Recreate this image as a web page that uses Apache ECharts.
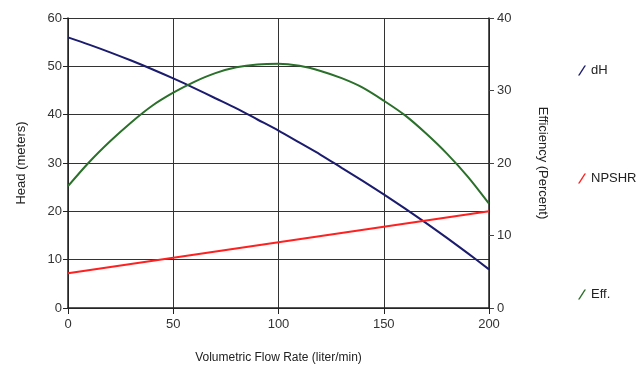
<!DOCTYPE html>
<html><head><meta charset="utf-8">
<script src="https://cdn.jsdelivr.net/npm/echarts@6/dist/echarts.min.js"></script>
<style>html,body{margin:0;padding:0;background:#fff}#c{width:643px;height:369px}</style>
</head><body><div id="c"></div>
<script>
var flow = [0,10,20,30,40,50,60,70,80,90,100,110,120,130,140,150,160,170,180,190,200];
var dH = [56.0,54.5,52.9,51.2,49.4,47.5,45.5,43.4,41.3,39.0,36.7,34.2,31.7,29.0,26.3,23.5,20.6,17.6,14.5,11.3,8.0];
var npshrFlow = [0,200];
var npshr = [7.2,20.0];
var eff = [16.8,20.1,23.0,25.6,27.9,29.7,31.2,32.4,33.2,33.6,33.7,33.4,32.7,31.7,30.4,28.6,26.6,24.1,21.3,18.1,14.4];
var headTicks = [0,10,20,30,40,50,60];
var effTicks = [0,10,20,30,40];
var flowTicks = [0,50,100,150,200];

function pairs(xs, ys){ return xs.map(function(x,i){return [x, ys[i]];}); }
var font = 'Liberation Sans, Arial, sans-serif';
var icon = 'path://M0,10 L1.6,10 L8,0 L6.4,0 Z';
function leg(name, top, color){
  return {data:[{name:name, icon:icon, itemStyle:{color:color}}], left:573, top:top, itemWidth:8, itemHeight:11,
    textStyle:{fontFamily:font, fontSize:13, color:'#222'}, itemGap:0};
}
var chart = echarts.init(document.getElementById('c'), null, {renderer:'canvas'});
chart.setOption({
  animation:false,
  grid:{left:68, right:154, top:18, bottom:59},
  legend:[leg('dH',59,'#1c1c6e'), leg('NPSHR',167,'#ff2020'), leg('Eff.',283,'#2a6f2a')],
  xAxis:{type:'value', min:flowTicks[0], max:flowTicks[flowTicks.length-1], interval:50,
    name:'Volumetric Flow Rate (liter/min)', nameLocation:'middle', nameGap:44,
    nameTextStyle:{fontFamily:font, fontSize:12, color:'#222'},
    axisLine:{lineStyle:{color:'#222', width:1.5}},
    axisTick:{show:true, length:6, lineStyle:{color:'#222'}},
    axisLabel:{fontFamily:font, fontSize:13, color:'#333', margin:10},
    splitLine:{show:true, lineStyle:{color:'#333', width:1}}},
  yAxis:[
    {type:'value', min:headTicks[0], max:headTicks[headTicks.length-1], interval:10,
     name:'Head (meters)', nameLocation:'middle', nameGap:40, nameRotate:90,
     nameTextStyle:{fontFamily:font, fontSize:13, color:'#222'},
     axisLine:{show:true, lineStyle:{color:'#222', width:1.5}},
     axisTick:{show:true, length:5, lineStyle:{color:'#222'}},
     axisLabel:{fontFamily:font, fontSize:13, color:'#333', margin:6},
     splitLine:{show:true, lineStyle:{color:'#333', width:1}}},
    {type:'value', position:'right', min:effTicks[0], max:effTicks[effTicks.length-1], interval:10,
     name:'Efficiency (Percent)', nameLocation:'middle', nameGap:47, nameRotate:-90,
     nameTextStyle:{fontFamily:font, fontSize:13, color:'#222'},
     axisLine:{show:true, lineStyle:{color:'#222', width:1.5}},
     axisTick:{show:true, length:5, lineStyle:{color:'#444'}},
     axisLabel:{fontFamily:font, fontSize:13, color:'#333', margin:8},
     splitLine:{show:false}}
  ],
  series:[
    {name:'dH', type:'line', yAxisIndex:0, data:pairs(flow,dH), smooth:0.3, showSymbol:false,
     lineStyle:{color:'#1c1c6e', width:2}, itemStyle:{color:'#1c1c6e'}},
    {name:'NPSHR', type:'line', yAxisIndex:0, data:pairs(npshrFlow,npshr), showSymbol:false,
     lineStyle:{color:'#ff2020', width:2}, itemStyle:{color:'#ff2020'}},
    {name:'Eff.', type:'line', yAxisIndex:1, data:pairs(flow,eff), smooth:0.3, showSymbol:false,
     lineStyle:{color:'#2a6f2a', width:2}, itemStyle:{color:'#2a6f2a'}}
  ]
});
</script></body></html>
